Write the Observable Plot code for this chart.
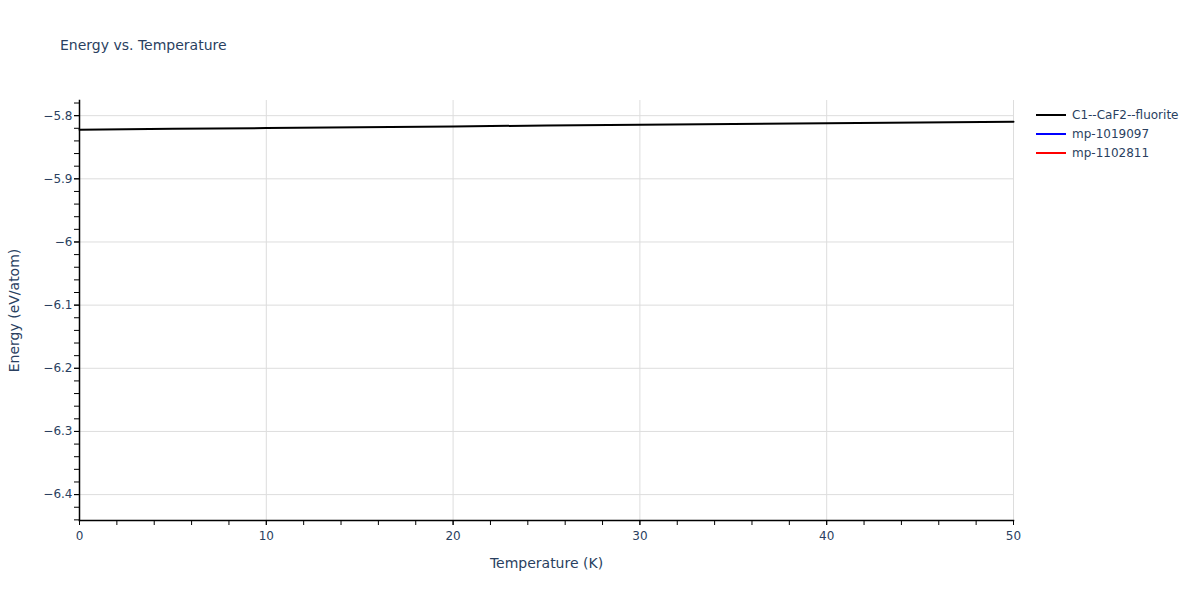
<!DOCTYPE html>
<html>
<head>
<meta charset="utf-8">
<script src="https://cdn.jsdelivr.net/npm/d3@7"></script>
<script src="https://cdn.jsdelivr.net/npm/@observablehq/plot@0.6"></script>
<style>
  body { margin: 0; background: #fff; font-family: "DejaVu Sans", sans-serif; }
  #wrap { position: relative; width: 1200px; height: 600px; }
  #title { position: absolute; left: 60px; top: 37px; font-size: 14px; color: #2a3f5f; }
  #legend { position: absolute; left: 1036px; top: 106px; font-size: 12px; color: #2a3f5f; }
  .item { display: flex; align-items: center; height: 18.7px; }
  .sw { width: 30px; height: 2px; margin-right: 6px; }
</style>
</head>
<body>
<div id="wrap">
  <div id="chart"></div>
  <div id="title">Energy vs. Temperature</div>
  <div id="legend"></div>
</div>
<script>
const seriesNames = ["C1--CaF2--fluorite", "mp-1019097", "mp-1102811"];
const seriesColors = ["#000000", "#0000ff", "#ff0000"];
const temperature = [0, 5, 10, 15, 20, 25, 30, 35, 40, 45, 50];
const energyFluorite = [-5.8222, -5.8209, -5.8196, -5.8183, -5.8170, -5.8156, -5.8143, -5.8131, -5.8119, -5.8107, -5.8095];
const energyMp1019097 = [];
const energyMp1102811 = [];
const xMajorTicks = [0, 10, 20, 30, 40, 50];
const xMinorTicks = d3.range(0, 51, 2);
const yMajorTicks = [-6.4, -6.3, -6.2, -6.1, -6.0, -5.9, -5.8];
const yMinorTicks = d3.range(-6.44, -5.77, 0.02).map(v => +v.toFixed(2));

const seriesValues = [energyFluorite, energyMp1019097, energyMp1102811];
const data = [];
seriesNames.forEach((name, i) => {
  seriesValues[i].forEach((e, j) => data.push({series: name, T: temperature[j], E: e}));
});

const fmt = d3.format("~g");
const textColor = "#2a3f5f";

const chart = Plot.plot({
  width: 1200,
  height: 600,
  marginLeft: 79,
  marginRight: 187,
  marginTop: 100,
  marginBottom: 80,
  style: {fontFamily: "'DejaVu Sans', sans-serif", fontSize: "12px", color: textColor, background: "transparent"},
  x: {domain: [0, 50]},
  y: {domain: [-6.441, -5.776]},
  color: {domain: seriesNames, range: seriesColors},
  marks: [
    Plot.gridX(xMajorTicks.slice(1), {stroke: "#dddddd", strokeOpacity: 1}),
    Plot.gridY(yMajorTicks, {stroke: "#dddddd", strokeOpacity: 1}),
    Plot.line(data, {x: "T", y: "E", z: "series", stroke: "series", strokeWidth: 2}),
    Plot.axisX(xMinorTicks, {tickSize: 5, stroke: "#000", tickFormat: () => "", label: null}),
    Plot.axisX(xMajorTicks, {tickSize: 5, tickPadding: 6, stroke: "#000", fill: textColor, fontSize: 12, tickFormat: fmt, label: null}),
    Plot.axisY(yMinorTicks, {tickSize: 5, stroke: "#000", tickFormat: () => "", label: null}),
    Plot.axisY(yMajorTicks, {tickSize: 5, tickPadding: 2, stroke: "#000", fill: textColor, fontSize: 12, tickFormat: fmt, label: null}),
    Plot.frame({anchor: "left", stroke: "#000", strokeWidth: 1.5}),
    Plot.frame({anchor: "bottom", stroke: "#000", strokeWidth: 1.5}),
    Plot.text(["Temperature (K)"], {frameAnchor: "bottom", dy: 47, fontSize: 14, fill: textColor}),
    Plot.text(["Energy (eV/atom)"], {frameAnchor: "left", textAnchor: "middle", dx: -65, rotate: -90, fontSize: 14, fill: textColor})
  ]
});
document.getElementById("chart").appendChild(chart);

const legend = document.getElementById("legend");
seriesNames.forEach((name, i) => {
  const item = document.createElement("div");
  item.className = "item";
  item.innerHTML = `<div class="sw" style="background:${seriesColors[i]}"></div><span>${name}</span>`;
  legend.appendChild(item);
});
</script>
</body>
</html>
